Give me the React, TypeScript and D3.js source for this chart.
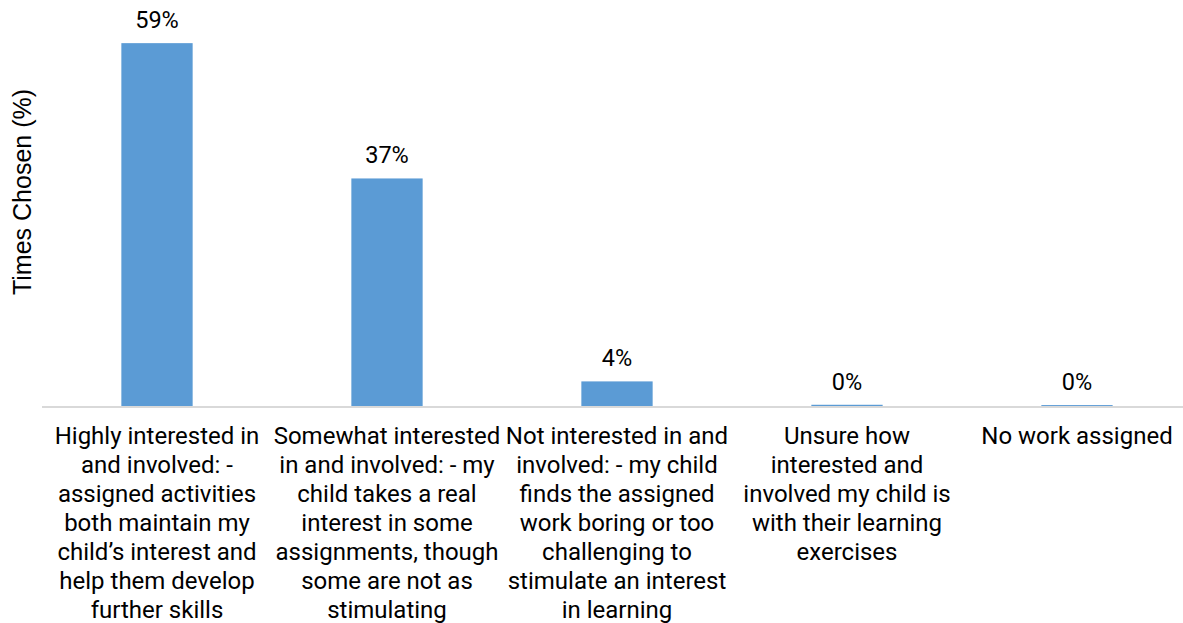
import React from "react";
import * as d3 from "d3";

const categories = [
  "Highly interested in and involved: - assigned activities both maintain my child’s interest and help them develop further skills",
  "Somewhat interested in and involved: - my child takes a real interest in some assignments, though some are not as stimulating",
  "Not interested in and involved: - my child finds the assigned work boring or too challenging to stimulate an interest in learning",
  "Unsure how interested and involved my child is with their learning exercises",
  "No work assigned",
];
const categoryLines = [
  ["Highly interested in", "and involved: -", "assigned activities", "both maintain my", "child’s interest and", "help them develop", "further skills"],
  ["Somewhat interested", "in and involved: - my", "child takes a real", "interest in some", "assignments, though", "some are not as", "stimulating"],
  ["Not interested in and", "involved: - my child", "finds the assigned", "work boring or too", "challenging to", "stimulate an interest", "in learning"],
  ["Unsure how", "interested and", "involved my child is", "with their learning", "exercises"],
  ["No work assigned"],
];
const values = [59, 37, 4, 0.2, 0.15];
const yTitle = "Times Chosen (%)";

const W = 1183;
const H = 623;
const FONT = "Roboto, 'Noto Sans', sans-serif";

export default function App() {
  const x = d3.scaleBand<number>().domain(d3.range(categories.length)).range([42, 1192]).paddingInner(0.69).paddingOuter(0.345);
  const y = d3.scaleLinear().domain([0, 60]).range([406, 37]);
  const fmt = (v: number) => `${Math.round(v)}%`;
  return (
    <svg width={W} height={H} style={{ position: "absolute", left: 0, top: 0, display: "block", overflow: "hidden" }} fontFamily={FONT}>
      <rect width={W} height={H} fill="#fff" />
      {values.map((v, i) => (
        <rect key={"b" + i} x={x(i)} y={y(v)} width={x.bandwidth()} height={y(0) - y(v)} fill="#5B9BD5" />
      ))}
      <line x1={42} x2={W} y1={y(0) + 1} y2={y(0) + 1} stroke="#D9D9D9" strokeWidth={2} />
      {values.map((v, i) => (
        <text key={"v" + i} x={(x(i) as number) + x.bandwidth() / 2} y={y(v) - 15} textAnchor="middle" fontSize={23.5} fill="#000">
          {fmt(v)}
        </text>
      ))}
      {categoryLines.map((lines, i) => (
        <text key={"c" + i} x={(x(i) as number) + x.bandwidth() / 2} y={444} textAnchor="middle" fontSize={24} fill="#000">
          {lines.map((l, j) => (
            <tspan key={j} x={(x(i) as number) + x.bandwidth() / 2} dy={j === 0 ? 0 : 29}>{l}</tspan>
          ))}
        </text>
      ))}
      <text transform="translate(31,192) rotate(-90)" textAnchor="middle" fontSize={25} fill="#000" fontFamily="'Liberation Sans', Arial, sans-serif">
        {yTitle}
      </text>
    </svg>
  );
}
